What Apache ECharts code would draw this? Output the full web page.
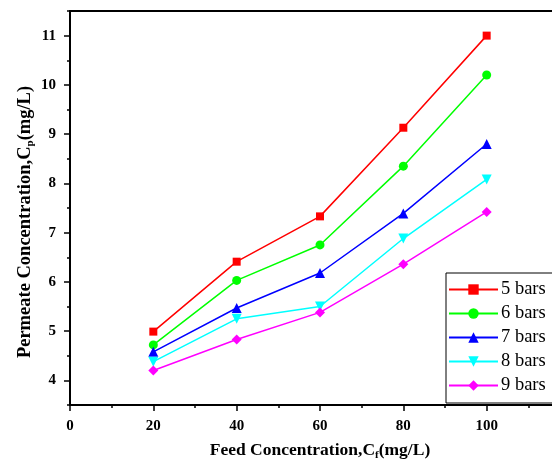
<!DOCTYPE html>
<html>
<head>
<meta charset="utf-8">
<script src="https://cdn.jsdelivr.net/npm/echarts@6/dist/echarts.min.js"></script>
<style>
  html, body { margin: 0; padding: 0; background: #fff; }
  #chart { width: 552px; height: 468px; }
</style>
</head>
<body>
<div id="chart"></div>
<script>
const feed = [20, 40, 60, 80, 100];
const names = ['5 bars', '6 bars', '7 bars', '8 bars', '9 bars'];
const bar5 = [4.99, 6.41, 7.33, 9.13, 11.0];
const bar6 = [4.72, 6.03, 6.75, 8.35, 10.2];
const bar7 = [4.58, 5.47, 6.18, 7.39, 8.8];
const bar8 = [4.38, 5.25, 5.5, 6.88, 8.08];
const bar9 = [4.2, 4.83, 5.38, 6.36, 7.42];
const yTicks = [4, 5, 6, 7, 8, 9, 10, 11];

const values = [bar5, bar6, bar7, bar8, bar9];
const colors = ['#ff0000', '#00ff00', '#0000ff', '#00ffff', '#ff00ff'];
const symbols = ['rect', 'circle', 'triangle', 'triangle', 'diamond'];
const rotates = [0, 0, 0, 180, 0];
const sizes = [8, 9, 10, 10, 10];

const serif = 'Liberation Serif';
const chart = echarts.init(document.getElementById('chart'));

const series = names.map((n, i) => ({
    name: n,
    type: 'line',
    data: feed.map((x, j) => [x, values[i][j]]),
    symbol: symbols[i],
    symbolRotate: rotates[i],
    symbolSize: sizes[i],
    showAllSymbol: true,
    lineStyle: { color: colors[i], width: 1.5 },
    itemStyle: { color: colors[i] }
}));

const nameStyle = (size, pad) => ({
    fontFamily: serif, fontWeight: 'bold', fontSize: size, color: '#000',
    padding: pad,
    rich: {
        sub: { fontFamily: serif, fontWeight: 'bold', fontSize: 11, color: '#000', padding: [10, 0, 0, 0] }
    }
});

const option = {
    animation: false,
    grid: {
        left: 70,
        top: 11,
        width: 500,
        height: 394,
        containLabel: false,
        outerBoundsMode: 'none',
        show: true,
        borderColor: '#000',
        borderWidth: 2
    },
    legend: {
        orient: 'vertical',
        left: 446,
        top: 273,
        width: 120,
        padding: [7, 40, 8, 2],
        itemGap: 5,
        itemWidth: 49,
        itemHeight: 13,
        borderColor: '#000',
        borderWidth: 1,
        textStyle: { fontFamily: serif, fontSize: 18.5, color: '#000', lineHeight: 18.5, padding: [0, 0, 0, -2] },
        data: names
    },
    xAxis: {
        type: 'value',
        min: 0,
        max: 120,
        interval: 20,
        name: 'Feed Concentration,C{sub|f}(mg/L)',
        nameLocation: 'middle',
        nameGap: 35,
        nameTextStyle: nameStyle(17.5, 0),
        axisLine: { lineStyle: { color: '#000', width: 2 } },
        axisTick: { show: true, length: 6, lineStyle: { color: '#000', width: 1.5 } },
        minorTick: { show: true, splitNumber: 2, length: 3, lineStyle: { color: '#000', width: 1.5 } },
        splitLine: { show: false },
        axisLabel: { fontFamily: serif, fontWeight: 'bold', fontSize: 15, color: '#000', margin: 14 }
    },
    yAxis: [{
        type: 'value',
        min: 3.5,
        max: 11.5,
        name: 'Permeate Concentration,C{sub|p}(mg/L)',
        nameLocation: 'middle',
        nameMoveOverlap: false,
        nameGap: 34,
        nameTextStyle: nameStyle(18.5, [0, 28, 0, 0]),
        axisLine: { lineStyle: { color: '#000', width: 2 } },
        axisTick: { show: true, length: 6, customValues: yTicks, lineStyle: { color: '#000', width: 1.5 } },
        splitLine: { show: false },
        axisLabel: {
            fontFamily: serif, fontWeight: 'bold', fontSize: 15, color: '#000', margin: 14,
            customValues: yTicks
        }
    }, {
        // short ticks at the half values
        type: 'value',
        position: 'left',
        min: 3.5,
        max: 11.5,
        interval: 0.5,
        axisLine: { show: false },
        axisTick: { show: true, length: 3, lineStyle: { color: '#000', width: 1.5 } },
        axisLabel: { show: false },
        splitLine: { show: false }
    }],
    series: series
};

chart.setOption(option);
</script>
</body>
</html>
